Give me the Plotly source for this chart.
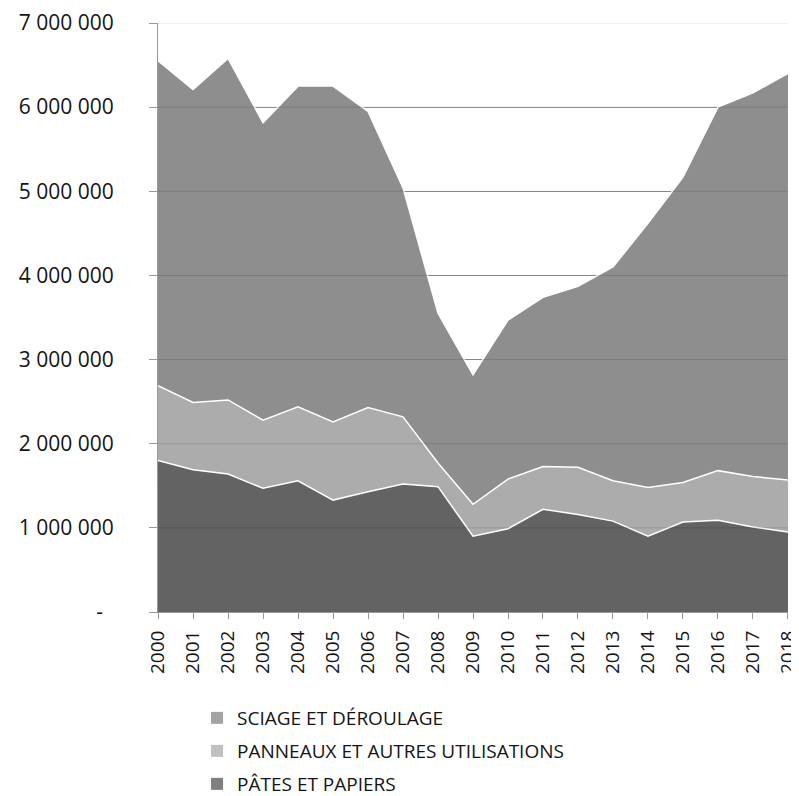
import plotly.graph_objects as go

years = list(range(2000, 2019))
pates = [1.80e6, 1.69e6, 1.64e6, 1.47e6, 1.56e6, 1.33e6, 1.43e6, 1.52e6, 1.49e6, 0.90e6,
         0.99e6, 1.22e6, 1.16e6, 1.08e6, 0.90e6, 1.07e6, 1.09e6, 1.01e6, 0.95e6]
panneaux = [0.89e6, 0.80e6, 0.88e6, 0.81e6, 0.88e6, 0.93e6, 1.00e6, 0.80e6, 0.28e6, 0.38e6,
            0.59e6, 0.51e6, 0.56e6, 0.48e6, 0.58e6, 0.47e6, 0.59e6, 0.60e6, 0.62e6]
sciage = [3.86e6, 3.72e6, 4.06e6, 3.535e6, 3.81e6, 3.99e6, 3.52e6, 2.72e6, 1.78e6, 1.54e6,
          1.89e6, 2.01e6, 2.15e6, 2.54e6, 3.14e6, 3.63e6, 4.32e6, 4.56e6, 4.83e6]

series_names = ["PÂTES ET PAPIERS", "PANNEAUX ET AUTRES UTILISATIONS", "SCIAGE ET DÉROULAGE"]
area_colors = ["#636363", "#acacac", "#8e8e8e"]
legend_colors = ["#7f7f7f", "#c0c0c0", "#a3a3a3"]

y_tickvals = [0, 1e6, 2e6, 3e6, 4e6, 5e6, 6e6, 7e6]
y_ticktext = ["-\u00a0\u00a0", "1 000 000", "2 000 000", "3 000 000", "4 000 000",
              "5 000 000", "6 000 000", "7 000 000"]

FONT = "Open Sans"
TXT = "#141414"

fig = go.Figure()
for name, vals, col in zip(series_names, [pates, panneaux, sciage], area_colors):
    fig.add_trace(go.Scatter(
        x=years, y=vals, name=name, stackgroup="one", mode="lines",
        line=dict(color="white", width=1.5), fillcolor=col, showlegend=False,
        hoverinfo="x+y+name",
    ))

# legend-only square markers, each in its own legend box (top to bottom: sciage, panneaux, pates)
legend_ids = ["legend", "legend2", "legend3"]
for lid, name, col in zip(legend_ids, series_names[::-1], legend_colors[::-1]):
    fig.add_trace(go.Scatter(
        x=[None], y=[None], mode="markers", name=name, legend=lid,
        marker=dict(symbol="square", size=12, color=col), showlegend=True,
    ))

shapes = []
for v in y_tickvals[1:]:
    shapes.append(dict(type="line", xref="paper", x0=0, x1=1, yref="y", y0=v, y1=v,
                       layer="above", line=dict(color="rgba(0,0,0,0.13)", width=1)))

# page has an 8px body margin: the figure is sized/shifted so the plot lands at 158..788 x 23..612
W, H = 791, 788
ML, MR, MT, MB = 150, 11, 15, 184
plot_h = H - MT - MB
plot_bottom_page = 8 + MT + plot_h

legend_common = dict(xanchor="left", yanchor="middle",
                     font=dict(size=19, family=FONT, color=TXT),
                     bgcolor="rgba(0,0,0,0)", itemwidth=30)
row_px = [718, 751, 784]
legend_x = 0.062

layout_legends = {}
for lid, ypx in zip(legend_ids, row_px):
    layout_legends[lid] = dict(x=legend_x, y=(plot_bottom_page - ypx) / plot_h,
                               **legend_common)

fig.update_layout(
    width=W, height=H,
    margin=dict(l=ML, r=MR, t=MT, b=MB, autoexpand=False),
    paper_bgcolor="white", plot_bgcolor="white",
    font=dict(family=FONT, color=TXT),
    shapes=shapes,
    xaxis=dict(
        range=[1999.999, 2018.001], tickmode="array", tickvals=years,
        ticktext=[str(y) for y in years], tickangle=-90,
        tickfont=dict(size=19, family=FONT, color=TXT),
        ticks="outside", ticklen=6, tickcolor="#999999",
        showline=True, linecolor="#999999", linewidth=1,
        showgrid=False, zeroline=False, ticklabelstandoff=4, automargin=False,
        ticklabeloverflow="allow",
    ),
    yaxis=dict(
        range=[0, 7e6], tickmode="array", tickvals=y_tickvals, ticktext=y_ticktext,
        tickfont=dict(size=21, family=FONT, color=TXT),
        ticks="outside", ticklen=8, tickcolor="#999999",
        showline=True, linecolor="#999999", linewidth=1,
        showgrid=True, gridcolor="#9a9a9a", gridwidth=1, zeroline=False,
        ticklabelstandoff=31, automargin=False,
    ),
    **layout_legends,
)

fig.write_html("out.html")
